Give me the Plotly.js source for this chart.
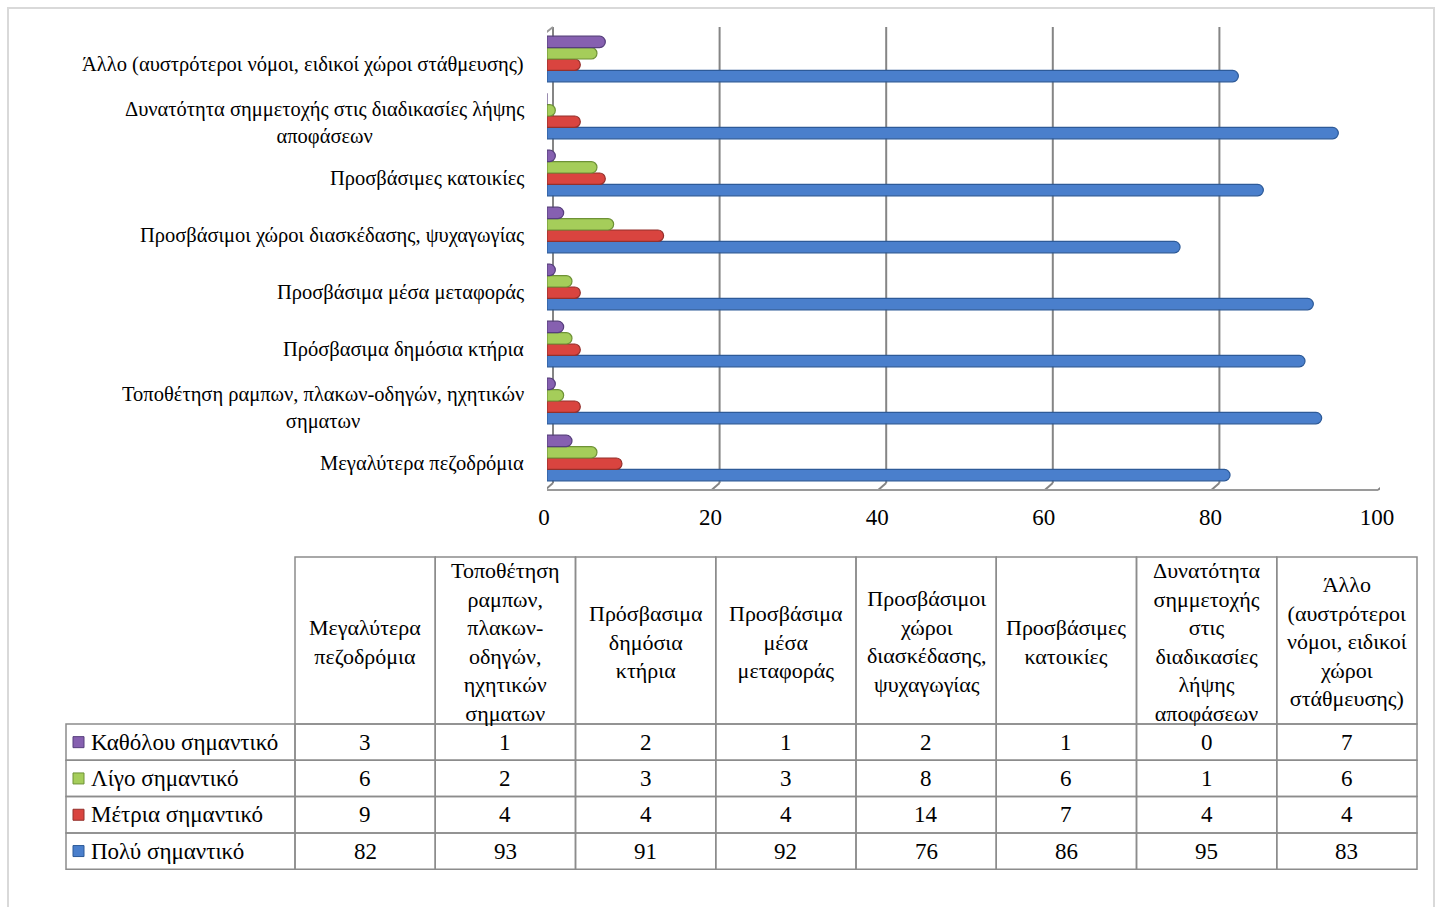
<!DOCTYPE html>
<html>
<head>
<meta charset="utf-8">
<script src="https://cdn.plot.ly/plotly-3.0.1.min.js"></script>
<style>
  html, body { margin: 0; padding: 0; background: #ffffff; }
  #chart { width: 1440px; height: 907px; }
</style>
</head>
<body>
<div id="chart"></div>
<script>
// Categories, bottom to top on the chart, left to right in the table
const categories = [
  "Μεγαλύτερα πεζοδρόμια",
  "Τοποθέτηση ραμπων, πλακων-οδηγών, ηχητικών σηματων",
  "Πρόσβασιμα δημόσια κτήρια",
  "Προσβάσιμα μέσα μεταφοράς",
  "Προσβάσιμοι χώροι διασκέδασης, ψυχαγωγίας",
  "Προσβάσιμες κατοικίες",
  "Δυνατότητα σημμετοχής στις διαδικασίες λήψης αποφάσεων",
  "Άλλο (αυστρότεροι νόμοι, ειδικοί χώροι στάθμευσης)"
];

// Wrapped versions of the category names for the axis and the table header
const axisLabels = [
  "Μεγαλύτερα πεζοδρόμια",
  "Τοποθέτηση ραμπων, πλακων-οδηγών, ηχητικών<br>σηματων",
  "Πρόσβασιμα δημόσια κτήρια",
  "Προσβάσιμα μέσα μεταφοράς",
  "Προσβάσιμοι χώροι διασκέδασης, ψυχαγωγίας",
  "Προσβάσιμες κατοικίες",
  "Δυνατότητα σημμετοχής στις διαδικασίες λήψης<br>αποφάσεων",
  "Άλλο (αυστρότεροι νόμοι, ειδικοί χώροι στάθμευσης)"
];
const headerLabels = [
  "Μεγαλύτερα<br>πεζοδρόμια",
  "Τοποθέτηση<br>ραμπων,<br>πλακων-<br>οδηγών,<br>ηχητικών<br>σηματων",
  "Πρόσβασιμα<br>δημόσια<br>κτήρια",
  "Προσβάσιμα<br>μέσα<br>μεταφοράς",
  "Προσβάσιμοι<br>χώροι<br>διασκέδασης,<br>ψυχαγωγίας",
  "Προσβάσιμες<br>κατοικίες",
  "Δυνατότητα<br>σημμετοχής<br>στις<br>διαδικασίες<br>λήψης<br>αποφάσεων",
  "Άλλο<br>(αυστρότεροι<br>νόμοι, ειδικοί<br>χώροι<br>στάθμευσης)"
];

// Series (percentages)
const seriesNames = ["Πολύ σημαντικό", "Μέτρια σημαντικό", "Λίγο σημαντικό", "Καθόλου σημαντικό"];
const veryImportant       = [82, 93, 91, 92, 76, 86, 95, 83];
const moderatelyImportant = [9, 4, 4, 4, 14, 7, 4, 4];
const slightlyImportant   = [6, 2, 3, 3, 8, 6, 1, 6];
const notImportant        = [3, 1, 2, 1, 2, 1, 0, 7];
const seriesValues = [veryImportant, moderatelyImportant, slightlyImportant, notImportant];

const xTicks = [0, 20, 40, 60, 80, 100];

// Styling
const fills = ["#4a7fcc", "#d9443f", "#a5cd5a", "#8660b0"];
const edges = ["#2d5a98", "#93302c", "#6e9236", "#563e7c"];
const SERIF = "Liberation Serif, Times New Roman, serif";

const W = 1440, H = 907;
const px = x => x / W;
const py = y => 1 - y / H;

const traces = seriesNames.map((name, i) => ({
  type: "bar",
  orientation: "h",
  name: name,
  y: categories,
  x: seriesValues[i],
  marker: {
    color: fills[i],
    line: { color: edges[i], width: 1.2 },
    cornerradius: "50%"
  },
  hoverinfo: "x+name"
}));

const shapes = [];
const annotations = [];
const GRID = "#858585";
const FRONT = "#9a9a9a";

// Outer light frame
shapes.push({
  type: "rect", xref: "paper", yref: "paper",
  x0: px(8), x1: px(1434), y0: py(920), y1: py(8),
  line: { color: "#d9d9d9", width: 2 }, layer: "below"
});

// Back wall gridlines and bevels down to the front baseline (pseudo-3D frame)
xTicks.forEach(v => {
  shapes.push({
    type: "line", xref: "x", yref: "paper", xsizemode: "pixel", xanchor: v,
    x0: 6, x1: 6, y0: py(483), y1: py(27),
    line: { color: GRID, width: 2 }, layer: "below"
  });
  shapes.push({
    type: "line", xref: "x", yref: "paper", xsizemode: "pixel", xanchor: v,
    x0: -2, x1: 6, y0: py(490), y1: py(483),
    line: { color: GRID, width: 2 }, layer: "below"
  });
});
// Front baseline
shapes.push({
  type: "line", xref: "x", yref: "paper", xsizemode: "pixel", xanchor: 0,
  x0: -3, x1: 831, y0: py(490), y1: py(490),
  line: { color: FRONT, width: 2 }, layer: "below"
});
// Front left wall edge and its top bevel
shapes.push({
  type: "line", xref: "x", yref: "paper", xsizemode: "pixel", xanchor: 0,
  x0: -3, x1: -3, y0: py(490), y1: py(34),
  line: { color: FRONT, width: 2 }, layer: "below"
});
shapes.push({
  type: "line", xref: "x", yref: "paper", xsizemode: "pixel", xanchor: 0,
  x0: -3, x1: 6, y0: py(34), y1: py(27),
  line: { color: FRONT, width: 2 }, layer: "below"
});

// Category labels on the left
categories.forEach((c, i) => {
  const twoLines = axisLabels[i].indexOf("<br>") >= 0;
  annotations.push({
    xref: "paper", yref: "y", x: px(526), y: c,
    xanchor: "right", yanchor: "middle", align: "center",
    text: axisLabels[i], showarrow: false, yshift: twoLines ? -7 : -5,
    font: { family: SERIF, size: 20.5, color: "#000" }
  });
});

// Data table
const TBL = {
  left: 66, colStart: 295, right: 1417,
  headTop: 557, headBottom: 724, rowH: 36.3
};
const colW = (TBL.right - TBL.colStart) / categories.length;
const TLINE = { color: "#8c8c8c", width: 1.5 };
const HFONT = { family: SERIF, size: 22, color: "#000" };
const TFONT = { family: SERIF, size: 23, color: "#000" };

// Header row
categories.forEach((c, j) => {
  const x0 = TBL.colStart + j * colW;
  shapes.push({
    type: "rect", xref: "paper", yref: "paper",
    x0: px(x0), x1: px(x0 + colW), y0: py(TBL.headBottom), y1: py(TBL.headTop),
    line: TLINE
  });
  annotations.push({
    xref: "paper", yref: "paper",
    x: px(x0 + colW / 2), y: py((TBL.headTop + TBL.headBottom) / 2 + 1),
    xanchor: "center", yanchor: "middle", align: "center",
    text: headerLabels[j], showarrow: false, font: HFONT
  });
});

// Body rows: Καθόλου, Λίγο, Μέτρια, Πολύ
const rowOrder = [3, 2, 1, 0];
rowOrder.forEach((s, r) => {
  const y0 = TBL.headBottom + r * TBL.rowH;
  const y1 = y0 + TBL.rowH;
  const yc = (y0 + y1) / 2;
  shapes.push({
    type: "rect", xref: "paper", yref: "paper",
    x0: px(TBL.left), x1: px(TBL.colStart), y0: py(y1), y1: py(y0),
    line: TLINE
  });
  // legend key
  shapes.push({
    type: "rect", xref: "paper", yref: "paper",
    x0: px(73), x1: px(84), y0: py(yc + 5.5), y1: py(yc - 5.5),
    fillcolor: fills[s], line: { color: edges[s], width: 1 }
  });
  annotations.push({
    xref: "paper", yref: "paper", x: px(89), y: py(yc),
    xanchor: "left", yanchor: "middle",
    text: seriesNames[s], showarrow: false, font: TFONT
  });
  seriesValues[s].forEach((v, j) => {
    const x0 = TBL.colStart + j * colW;
    shapes.push({
      type: "rect", xref: "paper", yref: "paper",
      x0: px(x0), x1: px(x0 + colW), y0: py(y1), y1: py(y0),
      line: TLINE
    });
    annotations.push({
      xref: "paper", yref: "paper", x: px(x0 + colW / 2), y: py(yc),
      xanchor: "center", yanchor: "middle",
      text: String(v), showarrow: false, font: TFONT
    });
  });
});

const layout = {
  width: W, height: H,
  margin: { l: 0, r: 0, t: 0, b: 0 },
  paper_bgcolor: "#ffffff",
  plot_bgcolor: "rgba(0,0,0,0)",
  showlegend: false,
  barmode: "group",
  bargap: 0.2,
  bargroupgap: 0.0,
  xaxis: {
    domain: [547 / W, 1380 / W],
    range: [0, 100],
    tickvals: xTicks,
    showgrid: false, zeroline: false, showline: false, ticks: "",
    tickfont: { family: SERIF, size: 23, color: "#000" },
    ticklabelstandoff: 14,
    ticklabelshift: -3,
    fixedrange: true
  },
  yaxis: {
    domain: [1 - 486.5 / H, 1 - 30.5 / H],
    type: "category",
    categoryorder: "array",
    categoryarray: categories,
    showticklabels: false, showgrid: false, zeroline: false, showline: false,
    fixedrange: true
  },
  shapes: shapes,
  annotations: annotations
};

Plotly.newPlot("chart", traces, layout, { displayModeBar: false, staticPlot: true });
</script>
</body>
</html>
